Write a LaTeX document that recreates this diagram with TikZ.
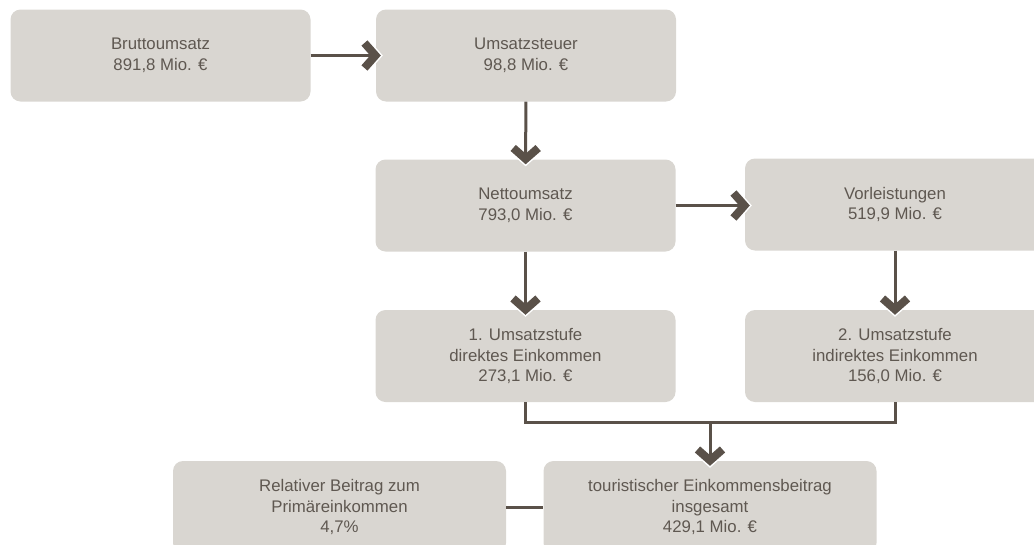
\documentclass[tikz,border=0pt]{standalone}
\usepackage{fontspec}
\setmainfont{Liberation Sans}
\usetikzlibrary{arrows.meta}
\definecolor{boxFill}{RGB}{217,214,209}
\definecolor{lineCol}{RGB}{90,81,73}
\definecolor{textCol}{RGB}{95,88,81}
\tikzset{
    block/.style={fill=boxFill, rounded corners=10pt, minimum height=92pt, inner sep=0pt,
        align=center, text=textCol, font=\fontsize{16.8}{20.5}\selectfont},
    link/.style={draw=lineCol, line width=3pt},
    flow/.style={link, shorten >=-5pt, -{Straight Barb[length=11pt,width=25pt,line width=8pt]},
        preaction={draw=white, line width=3pt, shorten >=-7pt,
            -{Straight Barb[length=11pt,width=25pt,line width=11pt]}}}
}

\begin{document}
\begin{tikzpicture}[x=1pt,y=-1pt]
    \def \boxWidth {300}
    \def \wideWidth {333}
    \useasboundingbox (0,0) rectangle (1034,544);

    \node[block, minimum width=\boxWidth pt] (brutto) at (160.5,55.5) {Bruttoumsatz\\891,8 Mio. €};
    \node[block, minimum width=\boxWidth pt] (steuer) at (526,55.5) {Umsatzsteuer\\98,8 Mio. €};
    \node[block, minimum width=\boxWidth pt] (netto) at (525.5,205.5) {Nettoumsatz\\793,0 Mio. €};
    \node[block, minimum width=\boxWidth pt] (vorl) at (895,204.5) {Vorleistungen\\519,9 Mio. €};
    \node[block, minimum width=\boxWidth pt] (stufeA) at (525.5,356) {1. Umsatzstufe\\direktes Einkommen\\273,1 Mio. €};
    \node[block, minimum width=\boxWidth pt] (stufeB) at (895,356) {2. Umsatzstufe\\indirektes Einkommen\\156,0 Mio. €};
    \node[block, minimum width=\wideWidth pt] (gesamt) at (710,507) {touristischer Einkommensbeitrag\\insgesamt\\429,1 Mio. €};
    \node[block, minimum width=\wideWidth pt] (relativ) at (339.5,507) {Relativer Beitrag zum\\Primäreinkommen\\4,7\%};

    \coordinate (join) at (710,422);

    \draw[flow] (brutto) -- (steuer);
    \draw[flow] (steuer) -- (netto);
    \draw[flow] (netto) -- (vorl.west |- netto);
    \draw[flow] (netto) -- (stufeA);
    \draw[flow] (vorl) -- (stufeB);
    \draw[link] (stufeA.south) |- (join) -| (stufeB.south);
    \draw[flow] (join) -- (gesamt);
    \draw[link] (relativ) -- (gesamt);
\end{tikzpicture}
\end{document}
